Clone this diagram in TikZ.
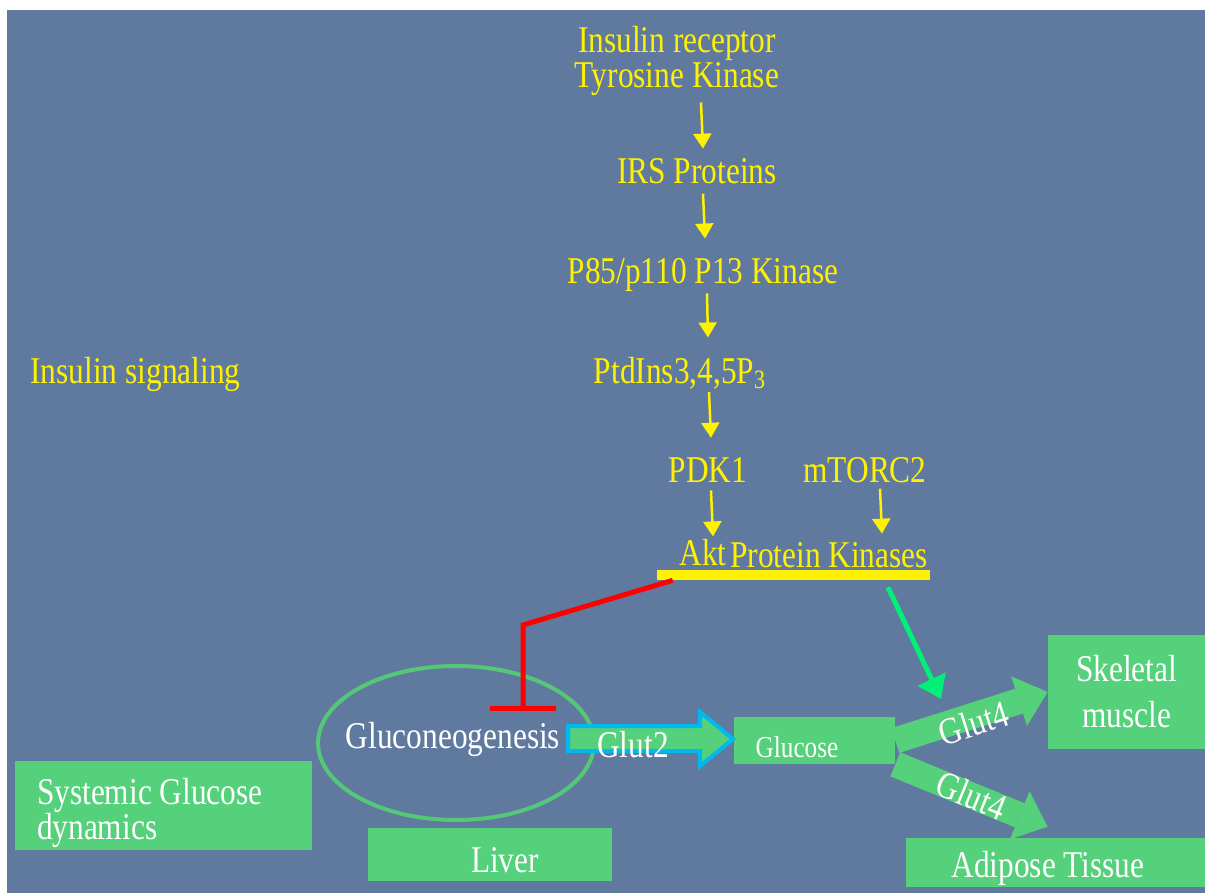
\documentclass[tikz,border=0pt]{standalone}
\usepackage{fontspec}
\setmainfont{Liberation Serif}[FakeStretch=0.83]
\usetikzlibrary{arrows.meta}
\definecolor{slide}{RGB}{96,122,159}
\definecolor{boxgreen}{RGB}{85,208,123}
\definecolor{ringgreen}{RGB}{85,200,120}
\definecolor{glutblue}{RGB}{0,185,240}
\definecolor{aktgreen}{RGB}{0,240,120}
\tikzset{
  sig/.style={text=yellow, inner sep=0pt, anchor=base},
  sigarrow/.style={yellow, line width=.05cm, -{Triangle[width=.36cm,length=.3cm]}},
  box/.style={fill=boxgreen, text=white, inner sep=0pt},
  glutarrow/.style={boxgreen, line width=.52cm, -{Triangle[width=1.04cm,length=.6cm,line width=0pt]}}
}
\begin{document}
\begin{tikzpicture}[x=0.02cm, y=-0.02cm, font=\fontsize{21.5}{19.9}\selectfont]
  \path[fill=white] (0,0) rectangle (1205,893);
  \fill[slide] (7,10) rectangle (1205,893);
  % signalling cascade
  \node[sig, align=center] (irtk) at (677,87) {Insulin receptor\\Tyrosine Kinase};
  \node[sig] (irs) at (697,183) {IRS Proteins};
  \node[sig] (pi3k) at (703,283) {P85/p110 P13 Kinase};
  \node[sig] (pip3) at (680,383) {PtdIns3,4,5P\textsubscript{3}};
  \node[sig] (pdk) at (708,482) {PDK1};
  \node[sig] (mtor) at (865,482) {mTORC2};
  \node[sig] (akt) at (703,565) {Akt};
  \node[sig] (pkin) at (829,567) {Protein Kinases};
  \node[sig] (insig) at (135.5,383) {Insulin signaling};
  \node[fill=yellow, inner sep=0pt, minimum width=5.46cm, minimum height=.2cm] (bar) at (793.5,575) {};
  \draw[sigarrow] ([xshift=.48cm,yshift=-.14cm]irtk.south) -- ([xshift=.12cm,yshift=.18cm]irs.north);
  \draw[sigarrow] ([xshift=.12cm,yshift=-.2cm]irs.south) -- ([xshift=.04cm,yshift=.38cm]pi3k.north);
  \draw[sigarrow] ([xshift=.08cm,yshift=-.04cm]pi3k.south) -- ([xshift=.56cm,yshift=.38cm]pip3.north);
  \draw[sigarrow] ([xshift=.58cm,yshift=-.06cm]pip3.south) -- ([xshift=.06cm,yshift=.38cm]pdk.north);
  \draw[sigarrow] ([xshift=.06cm,yshift=-.16cm]pdk.south) -- ([xshift=.2cm,yshift=.04cm]akt.north);
  \draw[sigarrow] ([xshift=.3cm,yshift=-.12cm]mtor.south) -- ([xshift=1.06cm,yshift=.16cm]pkin.north);
  % liver
  \draw[ringgreen, line width=.08cm] (456,743) ellipse (2.76cm and 1.54cm);
  \node[text=white, inner sep=0pt, anchor=base] (gng) at (453,748) {Gluconeogenesis};
  \node[box, minimum width=4.88cm, minimum height=1.06cm, text height=.7cm, text depth=0pt] (liver) at (490,854.5) {\hspace*{.6cm}Liver};
  \node[box, minimum width=5.94cm, minimum height=1.78cm, text width=5.06cm, inner xsep=.44cm, align=flush left] (sys) at (163.5,805.5) {\rule{0pt}{.84cm}Systemic Glucose\\dynamics};
  \coordinate (elbow) at (523,625);
  \draw[red, line width=.1cm, -{Bar[width=1.32cm]}, shorten >=.2cm] ([xshift=.32cm]bar.south west) -- (elbow) -- (elbow |- gng.north);
  % transport
  \node[box, minimum width=3.22cm, minimum height=.94cm, text height=.66cm, text depth=0pt, font=\fontsize{17.3}{19}\selectfont] (glc) at (814.5,740.5) {Glucose\hspace*{.7cm}};
  \draw[glutblue, fill=boxgreen, line width=.08cm] (568,726) -- (700,726) -- (700,712) -- (733,739) -- (700,766) -- (700,751) -- (568,751) -- cycle;
  \node[text=white, inner sep=0pt, anchor=base] (g2lab) at (633,757) {Glut2};
  \node[box, minimum width=3.14cm, minimum height=2.28cm, align=center] (skel) at (1126.5,692) {Skeletal\\[.22cm]muscle};
  \node[box, minimum width=5.98cm, minimum height=.98cm, text height=.58cm, text depth=0pt] (adi) at (1055.5,862.5) {Adipose Tissue\hspace*{.3cm}};
  \draw[glutarrow] (glc.east) -- node[sloped, text=white, inner sep=0pt, yshift=-.14cm] (g4a) {Glut4} (skel.west);
  \draw[glutarrow] (glc.south east) -- node[sloped, text=white, inner sep=0pt] (g4b) {Glut4} ([shift={(-.16cm,.22cm)}]adi.north);
  \coordinate (trans) at (941,699);
  \draw[aktgreen, line width=.1cm, -{Triangle[width=.6cm,length=.44cm]}] ([xshift=1.89cm,yshift=-.14cm]bar.south) -- (trans);
\end{tikzpicture}
\end{document}
